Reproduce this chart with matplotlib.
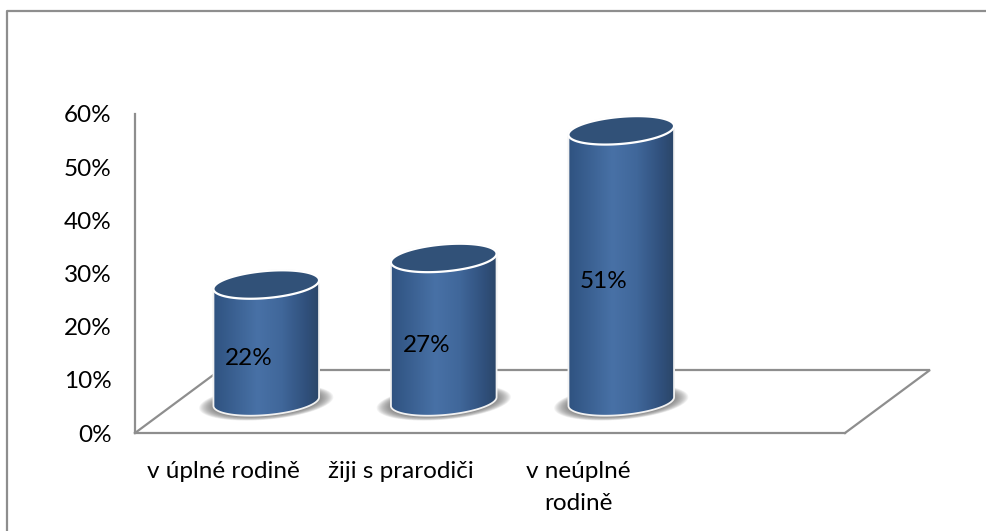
import matplotlib
matplotlib.use('Agg')
import matplotlib.pyplot as plt
import numpy as np
from matplotlib.colors import LinearSegmentedColormap
from matplotlib.lines import Line2D
from matplotlib.patches import Polygon

plt.rcParams['font.family'] = ['Lato', 'DejaVu Sans']

categories = ['v úplné rodině', 'žiji s prarodiči', 'v neúplné\nrodině', '']
values = [22, 27, 51]
value_labels = ['22%', '27%', '51%']
y_ticks = [0, 10, 20, 30, 40, 50, 60]
y_tick_labels = ['0%', '10%', '20%', '30%', '40%', '50%', '60%']

W, H = 987, 531
GRAY = '#8e8e8e'
FONT = 17.5
# size of one data unit in pixels
PX_X = 710 / 4
PX_Y = 319 / 60
# oblique depth of the floor, in data units
DEPTH_X = 85 / PX_X
DEPTH_Y = 63 / PX_Y
HALF_W = 53
HALF_H = 13.5
TILT = np.radians(5)

body_cmap = LinearSegmentedColormap.from_list(
    'body', [(0, '#2f5280'), (0.12, '#365b8b'), (0.42, '#4871a6'),
             (0.65, '#40679a'), (0.88, '#30507c'), (1, '#2b4668')])


def ellipse(cx, cy, a=HALF_W, b=HALF_H, n=200):
    t = np.linspace(0, 2 * np.pi, n, endpoint=False)
    ex = a * np.cos(t) * np.cos(TILT) - b * np.sin(t) * np.sin(TILT)
    ey = a * np.cos(t) * np.sin(TILT) + b * np.sin(t) * np.cos(TILT)
    return cx + ex / PX_X, cy + ey / PX_Y


def cylinder(ax, cx, cy, value):
    # soft shadow on the floor
    for k in np.linspace(1.27, 0.98, 16):
        sx, sy = ellipse(cx, cy - 1 / PX_Y, HALF_W * k, HALF_H * k)
        ax.fill(sx, sy, color='#666666', alpha=0.08, lw=0, zorder=3)

    bx, by = ellipse(cx, cy)
    tx, ty = ellipse(cx, cy + value)
    left, right = np.argmin(bx), np.argmax(bx)
    # lower arc of the base, then upper arc of the top
    idx_low = np.arange(left, right + 1) if left < right else np.r_[left:len(bx), 0:right + 1]
    idx_up = np.r_[right:len(bx), 0:left + 1] if left < right else np.arange(right, left + 1)
    xs = np.r_[bx[idx_low], tx[idx_up]]
    ys = np.r_[by[idx_low], ty[idx_up]]

    outline = Polygon(np.c_[xs, ys], closed=True, fc='none', ec='#f2f2f2', lw=1.3, zorder=5)
    ax.add_patch(outline)
    grad = np.linspace(0, 1, 256).reshape(1, -1)
    im = ax.imshow(grad, cmap=body_cmap, aspect='auto', zorder=4, origin='lower',
                   extent=[xs.min(), xs.max(), ys.min(), ys.max()], clip_on=True)
    clip = Polygon(np.c_[xs, ys], closed=True, transform=ax.transData)
    im.set_clip_path(clip)

    top = Polygon(np.c_[tx, ty], closed=True, fc='#315178', ec='white', lw=1.6, zorder=6)
    ax.add_patch(top)


fig = plt.figure(figsize=(W / 100, H / 100), dpi=100, facecolor='white')
ax = fig.add_axes([135 / W, (H - 433) / H, 710 / W, 319 / H])

# floor of the 3D chart
ax.plot([-0.5, -0.5 + DEPTH_X, 3.5 + DEPTH_X, 3.5], [0, DEPTH_Y, DEPTH_Y, 0],
        color=GRAY, lw=1.6, clip_on=False, zorder=2, solid_joinstyle='miter')

for i, v in enumerate(values):
    cylinder(ax, i + DEPTH_X / 2, DEPTH_Y / 2, v)
    ax.annotate(value_labels[i], (i, v / 2), xytext=(25, 16), textcoords='offset pixels',
                ha='center', va='center', fontsize=FONT, color='black', zorder=8, annotation_clip=False)

ax.set_xlim(-0.5, 3.5)
ax.set_ylim(0, 60)
ax.set_yticks(y_ticks)
ax.set_yticklabels(y_tick_labels, fontsize=FONT)
ax.set_xticks(range(len(categories)))
ax.set_xticklabels(categories, fontsize=FONT, linespacing=1.65)
ax.tick_params(axis='y', length=0, pad=17)
ax.tick_params(axis='x', length=0, pad=20)
for name in ['top', 'right']:
    ax.spines[name].set_visible(False)
for name in ['left', 'bottom']:
    ax.spines[name].set_color(GRAY)
    ax.spines[name].set_linewidth(1.6)
ax.patch.set_alpha(0)

# outer frame, only left and top are inside the crop
fig.add_artist(Line2D([7 / W, 7 / W, 1], [0, 1 - 11 / H, 1 - 11 / H], color=GRAY, lw=1.6))

fig.savefig('out.png', dpi=100)
